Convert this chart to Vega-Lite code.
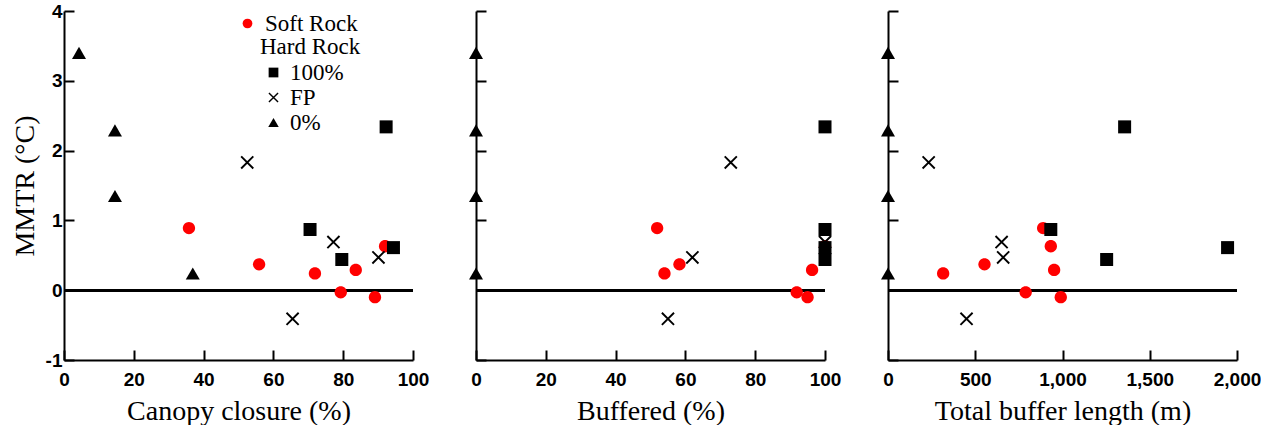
{
  "$schema": "https://vega.github.io/schema/vega-lite/v6.json",
  "padding": {"left": 11, "top": 2, "right": 0, "bottom": 0},
  "background": "white",
  "data": {
    "values": [
      {"rock": "Soft Rock", "type": "Soft Rock", "canopy": 35.8, "buffered": 51.9, "length": 889, "mmtr": 0.89},
      {"rock": "Soft Rock", "type": "Soft Rock", "canopy": 55.9, "buffered": 58.3, "length": 553, "mmtr": 0.37},
      {"rock": "Soft Rock", "type": "Soft Rock", "canopy": 71.9, "buffered": 54.0, "length": 316, "mmtr": 0.24},
      {"rock": "Soft Rock", "type": "Soft Rock", "canopy": 83.6, "buffered": 96.3, "length": 952, "mmtr": 0.29},
      {"rock": "Soft Rock", "type": "Soft Rock", "canopy": 79.3, "buffered": 91.9, "length": 789, "mmtr": -0.03},
      {"rock": "Soft Rock", "type": "Soft Rock", "canopy": 89.1, "buffered": 95.0, "length": 990, "mmtr": -0.10},
      {"rock": "Soft Rock", "type": "Soft Rock", "canopy": 92.0, "buffered": 100, "length": 933, "mmtr": 0.63},
      {"rock": "Hard Rock", "type": "100%", "canopy": 92.3, "buffered": 100, "length": 1356, "mmtr": 2.34},
      {"rock": "Hard Rock", "type": "100%", "canopy": 70.5, "buffered": 100, "length": 933, "mmtr": 0.87},
      {"rock": "Hard Rock", "type": "100%", "canopy": 79.6, "buffered": 100, "length": 1253, "mmtr": 0.44},
      {"rock": "Hard Rock", "type": "100%", "canopy": 94.4, "buffered": 100, "length": 1946, "mmtr": 0.61},
      {"rock": "Hard Rock", "type": "FP", "canopy": 52.5, "buffered": 73.0, "length": 233, "mmtr": 1.83},
      {"rock": "Hard Rock", "type": "FP", "canopy": 77.2, "buffered": 100, "length": 651, "mmtr": 0.69},
      {"rock": "Hard Rock", "type": "FP", "canopy": 90.1, "buffered": 62.0, "length": 660, "mmtr": 0.47},
      {"rock": "Hard Rock", "type": "FP", "canopy": 65.5, "buffered": 55.0, "length": 450, "mmtr": -0.41},
      {"rock": "Hard Rock", "type": "0%", "canopy": 4.3, "buffered": 0, "length": 0, "mmtr": 3.4},
      {"rock": "Hard Rock", "type": "0%", "canopy": 14.6, "buffered": 0, "length": 0, "mmtr": 2.29},
      {"rock": "Hard Rock", "type": "0%", "canopy": 14.6, "buffered": 0, "length": 0, "mmtr": 1.35},
      {"rock": "Hard Rock", "type": "0%", "canopy": 36.9, "buffered": 0, "length": 0, "mmtr": 0.24}
    ]
  },
  "spacing": 63,
  "bounds": "flush",
  "hconcat": [
    {
      "width": 349,
      "height": 349,
      "layer": [
        {
          "mark": {"type": "rule", "color": "black", "strokeWidth": 2.5},
          "encoding": {"y": {"datum": 0, "type": "quantitative", "scale": {"domain": [-1, 4], "nice": false, "zero": false}}}
        },
        {
          "mark": {"type": "point", "filled": true, "opacity": 1, "size": 196, "strokeWidth": 0},
          "encoding": {
            "x": {"field": "canopy", "type": "quantitative", "title": "Canopy closure (%)", "scale": {"domain": [0, 100], "nice": false, "zero": false}, "axis": {"values": [0, 20, 40, 60, 80, 100]}},
            "y": {"field": "mmtr", "type": "quantitative", "title": "MMTR (°C)", "scale": {"domain": [-1, 4], "nice": false, "zero": false}, "axis": {"values": [-1, 0, 1, 2, 3, 4], "labelExpr": "'' + datum.value"}},
            "color": {"field": "rock", "type": "nominal", "scale": {"domain": ["Soft Rock", "Hard Rock"], "range": ["#ff0000", "#000000"]}, "legend": {"values": ["Soft Rock"], "title": null, "orient": "none", "legendX": 172, "legendY": 1, "symbolType": "circle", "symbolSize": 95, "symbolStrokeWidth": 0, "labelOffset": 6, "padding": 0}},
            "shape": {"field": "type", "type": "nominal", "scale": {"domain": ["100%", "FP", "0%", "Soft Rock"], "range": ["M-0.929,-0.929H0.929V0.929H-0.929Z", "M-0.772,-0.964L0.964,0.772L0.772,0.964L-0.964,-0.772ZM-0.964,0.772L0.772,-0.964L0.964,-0.772L-0.772,0.964Z", "triangle-up", "M-0.879,0A0.879,0.879,0,1,0,0.879,0A0.879,0.879,0,1,0,-0.879,0Z"]}, "legend": {"values": ["100%", "FP", "0%"], "title": "Hard Rock", "orient": "none", "legendX": 196, "legendY": 25, "symbolSize": 110, "symbolFillColor": "black", "symbolStrokeWidth": 0, "symbolOffset": 2, "labelOffset": 5, "rowPadding": 1, "titlePadding": 2, "padding": 0}}
          }
        }
      ]
    },
    {
      "width": 349,
      "height": 349,
      "layer": [
        {
          "mark": {"type": "rule", "color": "black", "strokeWidth": 2.5},
          "encoding": {"y": {"datum": 0, "type": "quantitative", "scale": {"domain": [-1, 4], "nice": false, "zero": false}}}
        },
        {
          "mark": {"type": "point", "filled": true, "opacity": 1, "size": 196, "strokeWidth": 0},
          "encoding": {
            "x": {"field": "buffered", "type": "quantitative", "title": "Buffered (%)", "scale": {"domain": [0, 100], "nice": false, "zero": false}, "axis": {"values": [0, 20, 40, 60, 80, 100]}},
            "y": {"field": "mmtr", "type": "quantitative", "title": null, "scale": {"domain": [-1, 4], "nice": false, "zero": false}, "axis": {"values": [-1, 0, 1, 2, 3, 4], "labels": false, "title": null}},
            "color": {"field": "rock", "type": "nominal", "scale": {"domain": ["Soft Rock", "Hard Rock"], "range": ["#ff0000", "#000000"]}, "legend": {"values": ["Soft Rock"], "title": null, "orient": "none", "legendX": 172, "legendY": 1, "symbolType": "circle", "symbolSize": 95, "symbolStrokeWidth": 0, "labelOffset": 6, "padding": 0}},
            "shape": {"field": "type", "type": "nominal", "scale": {"domain": ["100%", "FP", "0%", "Soft Rock"], "range": ["M-0.929,-0.929H0.929V0.929H-0.929Z", "M-0.772,-0.964L0.964,0.772L0.772,0.964L-0.964,-0.772ZM-0.964,0.772L0.772,-0.964L0.964,-0.772L-0.772,0.964Z", "triangle-up", "M-0.879,0A0.879,0.879,0,1,0,0.879,0A0.879,0.879,0,1,0,-0.879,0Z"]}, "legend": {"values": ["100%", "FP", "0%"], "title": "Hard Rock", "orient": "none", "legendX": 196, "legendY": 25, "symbolSize": 110, "symbolFillColor": "black", "symbolStrokeWidth": 0, "symbolOffset": 2, "labelOffset": 5, "rowPadding": 1, "titlePadding": 2, "padding": 0}}
          }
        }
      ]
    },
    {
      "width": 349,
      "height": 349,
      "layer": [
        {
          "mark": {"type": "rule", "color": "black", "strokeWidth": 2.5},
          "encoding": {"y": {"datum": 0, "type": "quantitative", "scale": {"domain": [-1, 4], "nice": false, "zero": false}}}
        },
        {
          "mark": {"type": "point", "filled": true, "opacity": 1, "size": 196, "strokeWidth": 0},
          "encoding": {
            "x": {"field": "length", "type": "quantitative", "title": "Total buffer length (m)", "scale": {"domain": [0, 2000], "nice": false, "zero": false}, "axis": {"values": [0, 500, 1000, 1500, 2000], "format": ",.0f"}},
            "y": {"field": "mmtr", "type": "quantitative", "title": null, "scale": {"domain": [-1, 4], "nice": false, "zero": false}, "axis": {"values": [-1, 0, 1, 2, 3, 4], "labels": false, "title": null}},
            "color": {"field": "rock", "type": "nominal", "scale": {"domain": ["Soft Rock", "Hard Rock"], "range": ["#ff0000", "#000000"]}, "legend": {"values": ["Soft Rock"], "title": null, "orient": "none", "legendX": 172, "legendY": 1, "symbolType": "circle", "symbolSize": 95, "symbolStrokeWidth": 0, "labelOffset": 6, "padding": 0}},
            "shape": {"field": "type", "type": "nominal", "scale": {"domain": ["100%", "FP", "0%", "Soft Rock"], "range": ["M-0.929,-0.929H0.929V0.929H-0.929Z", "M-0.772,-0.964L0.964,0.772L0.772,0.964L-0.964,-0.772ZM-0.964,0.772L0.772,-0.964L0.964,-0.772L-0.772,0.964Z", "triangle-up", "M-0.879,0A0.879,0.879,0,1,0,0.879,0A0.879,0.879,0,1,0,-0.879,0Z"]}, "legend": {"values": ["100%", "FP", "0%"], "title": "Hard Rock", "orient": "none", "legendX": 196, "legendY": 25, "symbolSize": 110, "symbolFillColor": "black", "symbolStrokeWidth": 0, "symbolOffset": 2, "labelOffset": 5, "rowPadding": 1, "titlePadding": 2, "padding": 0}}
          }
        }
      ]
    }
  ],
  "config": {
    "font": "Liberation Serif",
    "view": {"stroke": null},
    "axis": {
      "domainColor": "black", "domainWidth": 2, "tickColor": "black", "tickWidth": 2, "tickSize": -10,
      "labelFont": "Liberation Sans", "labelFontWeight": "bold", "labelFontSize": 19, "labelColor": "black",
      "titleFont": "Liberation Serif", "titleFontSize": 28, "titleFontWeight": "normal", "titleColor": "black",
      "grid": false, "labelFlush": false, "labelOverlap": false
    },
    "axisX": {"labelPadding": 20, "titlePadding": 8},
    "axisY": {"labelPadding": 12, "titlePadding": 6},
    "legend": {
      "labelFont": "Liberation Serif", "labelFontSize": 23, "labelColor": "black",
      "titleFont": "Liberation Serif", "titleFontSize": 23, "titleFontWeight": "normal", "titleColor": "black"
    }
  }
}
